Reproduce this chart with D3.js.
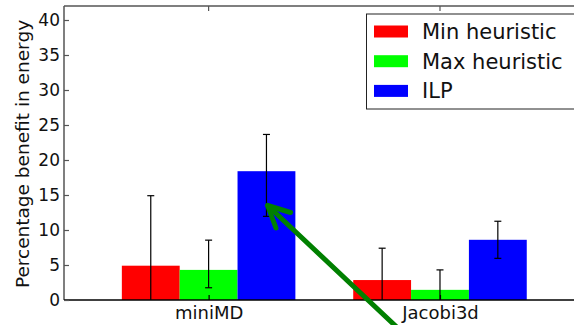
<!DOCTYPE html>
<html>
<head>
<meta charset="utf-8">
<script src="https://cdn.jsdelivr.net/npm/d3@7"></script>
<style>
  body { margin: 0; background: #fff; }
  svg { display: block; font-family: "DejaVu Sans", sans-serif; }
</style>
</head>
<body>
<div id="chart"></div>
<script>
// benchmarks and heuristics
const categories = ['miniMD', 'Jacobi3d'];
const series = ['Min heuristic', 'Max heuristic', 'ILP'];
const seriesColors = ['#ff0000', '#00ff00', '#0000ff'];

// bar heights per series (one value per category)
const minHeuristic = [4.9, 2.85];
const maxHeuristic = [4.3, 1.45];
const ilp = [18.4, 8.6];

// error bar low / high ends per series
const minErrLow = [-5.1, -1.7];
const minErrHigh = [14.9, 7.4];
const maxErrLow = [1.75, -1.4];
const maxErrHigh = [8.55, 4.3];
const ilpErrLow = [11.95, 5.95];
const ilpErrHigh = [23.65, 11.25];

const yTicks = [0, 5, 10, 15, 20, 25, 30, 35, 40];

// annotation arrow, data coordinates (tail, head)
const arrowFrom = [0.83, -4.4];
const arrowTo = [0.255, 13.5];

const values = [minHeuristic, maxHeuristic, ilp];
const errLow = [minErrLow, maxErrLow, ilpErrLow];
const errHigh = [minErrHigh, maxErrHigh, ilpErrHigh];

const W = 574, H = 325;
const margin = { left: 64, top: 6, bottom: 25 };
const barWidth = 0.25;

const x = d3.scaleLinear().domain([-0.625, 1.625]).range([margin.left, 584.6]);
const y = d3.scaleLinear().domain([0, 42]).range([H - margin.bottom, margin.top]);

const svg = d3.select('#chart').append('svg')
  .attr('width', W)
  .attr('height', H);

svg.append('defs').append('clipPath')
  .attr('id', 'plot')
  .append('rect')
  .attr('x', x.range()[0])
  .attr('y', y.range()[1])
  .attr('width', x.range()[1] - x.range()[0])
  .attr('height', y.range()[0] - y.range()[1]);

const rows = [];
series.forEach((s, si) => {
  categories.forEach((c, ci) => {
    rows.push({
      series: si,
      cat: ci,
      value: values[si][ci],
      lo: errLow[si][ci],
      hi: errHigh[si][ci],
      xc: ci + (si - 1) * barWidth
    });
  });
});

const plot = svg.append('g').attr('clip-path', 'url(#plot)');

// bars
plot.selectAll('.bar')
  .data(rows)
  .enter()
  .append('rect')
  .attr('class', 'bar')
  .attr('x', (d) => x(d.xc - barWidth / 2))
  .attr('width', (d) => x(barWidth) - x(0))
  .attr('y', (d) => y(d.value))
  .attr('height', (d) => y(0) - y(d.value))
  .attr('fill', (d) => seriesColors[d.series]);

// error bars
const capHalf = 3.5;
const err = plot.selectAll('.err')
  .data(rows)
  .enter()
  .append('g')
  .attr('class', 'err')
  .attr('stroke', '#000')
  .attr('stroke-width', 1.2);

err.append('line')
  .attr('x1', (d) => x(d.xc))
  .attr('x2', (d) => x(d.xc))
  .attr('y1', (d) => y(d.lo))
  .attr('y2', (d) => y(d.hi));

err.append('line')
  .attr('x1', (d) => x(d.xc) - capHalf)
  .attr('x2', (d) => x(d.xc) + capHalf)
  .attr('y1', (d) => y(d.hi))
  .attr('y2', (d) => y(d.hi));

err.append('line')
  .attr('x1', (d) => x(d.xc) - capHalf)
  .attr('x2', (d) => x(d.xc) + capHalf)
  .attr('y1', (d) => y(d.lo))
  .attr('y2', (d) => y(d.lo));

// spines
const spine = svg.append('g').attr('fill', 'none');
spine.append('line')
  .attr('stroke', '#555')
  .attr('stroke-width', 1.5)
  .attr('x1', x.range()[0]).attr('x2', x.range()[1])
  .attr('y1', y.range()[1]).attr('y2', y.range()[1]);
spine.append('line')
  .attr('stroke', '#555')
  .attr('stroke-width', 1.5)
  .attr('x1', x.range()[0]).attr('x2', x.range()[0])
  .attr('y1', y.range()[1]).attr('y2', y.range()[0]);
spine.append('line')
  .attr('stroke', '#000')
  .attr('stroke-width', 1.5)
  .attr('x1', x.range()[0]).attr('x2', x.range()[1])
  .attr('y1', y.range()[0]).attr('y2', y.range()[0]);

// y axis, ticks pointing inward
const yAxis = svg.append('g')
  .attr('transform', `translate(${margin.left}, 0)`)
  .call(d3.axisLeft(y).tickValues(yTicks).tickSize(-5).tickPadding(4));
yAxis.select('.domain').remove();
yAxis.selectAll('.tick line').attr('stroke', '#555').attr('stroke-width', 1.2);
yAxis.selectAll('.tick text')
  .attr('font-size', 17)
  .attr('font-family', 'DejaVu Sans')
  .attr('fill', '#111');

// x axis (bottom + mirrored top ticks)
const xAxis = svg.append('g')
  .attr('transform', `translate(0, ${y(0)})`)
  .call(d3.axisBottom(x).tickValues([0, 1]).tickFormat((d) => categories[d]).tickSize(-5).tickPadding(6));
xAxis.select('.domain').remove();
xAxis.selectAll('.tick line').attr('stroke', '#000').attr('stroke-width', 1.2);
xAxis.selectAll('.tick text')
  .attr('font-size', 18)
  .attr('font-family', 'DejaVu Sans')
  .attr('fill', '#111');

svg.append('g')
  .selectAll('line')
  .data([0, 1])
  .enter()
  .append('line')
  .attr('stroke', '#555')
  .attr('stroke-width', 1.2)
  .attr('x1', (d) => x(d)).attr('x2', (d) => x(d))
  .attr('y1', y.range()[1]).attr('y2', y.range()[1] + 5);

// y label
svg.append('text')
  .attr('transform', `translate(23, ${(y.range()[0] + y.range()[1]) / 2 + 1}) rotate(-90)`)
  .attr('text-anchor', 'middle')
  .attr('dy', '0.35em')
  .attr('font-size', 18.5)
  .attr('fill', '#111')
  .text('Percentage benefit in energy');

// annotation arrow
const ax1 = x(arrowFrom[0]), ay1 = y(arrowFrom[1]);
const ax2 = x(arrowTo[0]), ay2 = y(arrowTo[1]);
const ang = Math.atan2(ay1 - ay2, ax1 - ax2);
const headLen = 24, headAng = 0.46;
const arrow = svg.append('g')
  .attr('stroke', '#008000')
  .attr('stroke-width', 5)
  .attr('fill', 'none')
  .attr('stroke-linecap', 'round')
  .attr('stroke-linejoin', 'round');
arrow.append('line')
  .attr('x1', ax1).attr('y1', ay1)
  .attr('x2', ax2).attr('y2', ay2);
arrow.append('path')
  .attr('d', d3.line()([
    [ax2 + headLen * Math.cos(ang - headAng), ay2 + headLen * Math.sin(ang - headAng)],
    [ax2, ay2],
    [ax2 + headLen * Math.cos(ang + headAng), ay2 + headLen * Math.sin(ang + headAng)]
  ]));

// legend
const legend = svg.append('g').attr('class', 'legend');
legend.append('rect')
  .attr('x', 366.5)
  .attr('y', 14)
  .attr('width', 230)
  .attr('height', 95)
  .attr('fill', '#fff')
  .attr('stroke', '#222')
  .attr('stroke-width', 1);

const item = legend.selectAll('.item')
  .data(series)
  .enter()
  .append('g')
  .attr('class', 'item')
  .attr('transform', (d, i) => `translate(374, ${31.5 + i * 29.7})`);

item.append('rect')
  .attr('x', 0)
  .attr('y', -6)
  .attr('width', 34)
  .attr('height', 12)
  .attr('fill', (d, i) => seriesColors[i]);

item.append('text')
  .attr('x', 48)
  .attr('dy', '0.36em')
  .attr('font-size', 21)
  .attr('fill', '#111')
  .text((d) => d);
</script>
</body>
</html>
